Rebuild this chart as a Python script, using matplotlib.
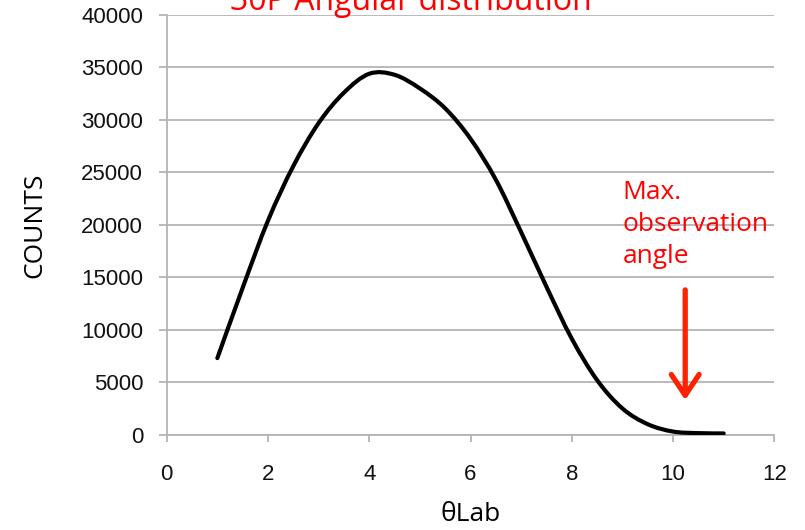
import matplotlib
matplotlib.use('Agg')
import matplotlib.pyplot as plt
import numpy as np
from matplotlib.path import Path
from matplotlib.patches import PathPatch

# angular distribution read per half degree
theta_lab = [1, 1.5, 2, 2.5, 3, 3.5, 4, 4.5, 5, 5.5, 6,
             6.5, 7, 7.5, 8, 8.5, 9, 9.5, 10, 10.5, 11]
counts = [7300, 14000, 20400, 25600, 29700, 32600, 34400, 34300, 33000, 31100, 28200,
          24300, 19300, 14100, 9150, 5200, 2500, 1000, 300, 150, 120]

x_ticks = [0, 2, 4, 6, 8, 10, 12]
y_ticks = [0, 5000, 10000, 15000, 20000, 25000, 30000, 35000, 40000]

max_angle = 10.24
arrow_top = 13800
arrow_tip = 3300

title = '30P Angular distribution'
note = 'Max.\nobservation\nangle'


def smooth_path(xs, ys):
    '''cubic bezier through the points (same smoothing as a spreadsheet line)'''
    p = np.column_stack([xs, ys]).astype(float)
    n = len(p)
    verts = [p[0]]
    codes = [Path.MOVETO]
    for i in range(n - 1):
        p0 = p[max(i - 1, 0)]
        p1 = p[i]
        p2 = p[i + 1]
        p3 = p[min(i + 2, n - 1)]
        c1 = p1 + (p2 - p0) / 6.0
        c2 = p2 - (p3 - p1) / 6.0
        verts += [c1, c2, p2]
        codes += [Path.CURVE4] * 3
    return Path(verts, codes)


fig = plt.figure(figsize=(8.05, 5.30), dpi=100)
ax = fig.add_axes([0.2071, 0.1798, 0.7548, 0.7919])

grid_col = '#b4b4b4'
ax.set_xlim(0, 12)
ax.set_ylim(0, 40000)
ax.set_xticks(x_ticks)
ax.set_yticks(y_ticks)
ax.set_yticklabels([str(v) for v in y_ticks])
ax.yaxis.grid(True, color=grid_col, linewidth=1.3)
ax.set_axisbelow(True)
for s in ['top', 'right']:
    ax.spines[s].set_visible(False)
for s in ['left', 'bottom']:
    ax.spines[s].set_color(grid_col)
    ax.spines[s].set_linewidth(1.3)
ax.tick_params(axis='y', length=6, width=1.3, color=grid_col, pad=11)
ax.tick_params(axis='x', length=5, width=1.3, color=grid_col, pad=16)
for lab in ax.get_xticklabels() + ax.get_yticklabels():
    lab.set_fontfamily('Liberation Sans')
    lab.set_fontsize(16)
    lab.set_color('#111111')

ax.add_patch(PathPatch(smooth_path(theta_lab, counts), fill=False,
                       edgecolor='black', linewidth=3.0, capstyle='round', zorder=3))

ax.set_ylabel('COUNTS', family='Open Sans', fontsize=19, labelpad=24)
ax.set_xlabel('θLab', family='Open Sans', fontsize=19, labelpad=12)

ax.annotate('', xy=(max_angle, arrow_tip), xytext=(max_angle, arrow_top),
            arrowprops=dict(arrowstyle='->, head_length=0.75, head_width=0.5',
                            color='#ff2200', linewidth=3.8, mutation_scale=20,
                            shrinkA=0, shrinkB=0))
ax.text(9.0, 24300, note, color='red', family='Open Sans', fontsize=19,
        va='top', ha='left', linespacing=1.38)

fig.text(0.51, 1 - 10 / 530, title, color='red', family='Open Sans', fontsize=23,
         ha='center', va='baseline')

fig.savefig('out.png', dpi=100)
